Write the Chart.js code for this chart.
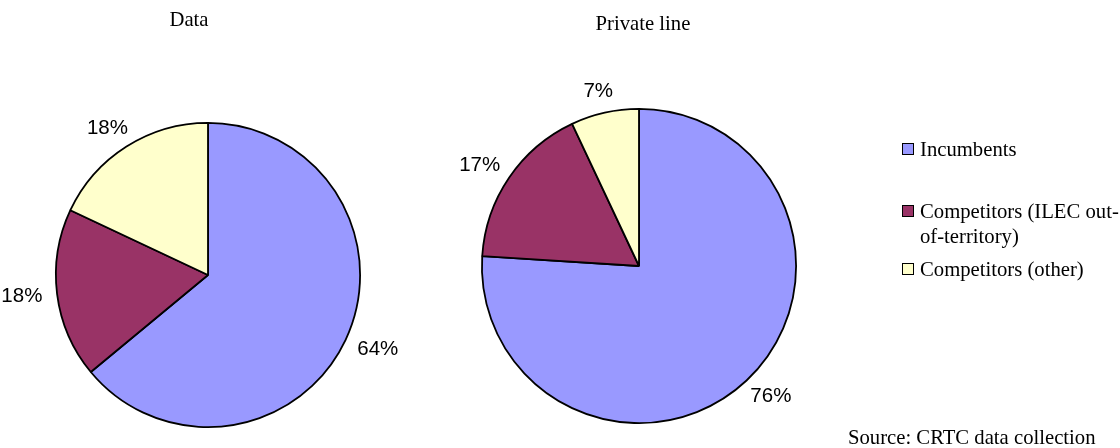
<!DOCTYPE html>
<html>
<head>
<meta charset="utf-8">
<script src="https://cdn.jsdelivr.net/npm/chart.js@4.4.1/dist/chart.umd.min.js"></script>
<style>
  html, body { margin: 0; padding: 0; background: #fff; }
  #page { position: relative; width: 1120px; height: 448px; overflow: hidden; }
  canvas.pie { position: absolute; left: 0; top: 0; }
  .serif { font-family: "Liberation Serif", "Times New Roman", serif; font-size: 20.7px; color: #000; line-height: 1; }
  .title { position: absolute; transform: translate(-50%, -50%); white-space: nowrap; }
  .legend-row { position: absolute; left: 902px; }
  .legend-box { position: absolute; left: 0; width: 10px; height: 10px; border: 1px solid #000; }
  .legend-text { position: absolute; left: 18px; white-space: pre; line-height: 25px; }
  #source { position: absolute; left: 848px; top: 427px; white-space: nowrap; }
</style>
</head>
<body>
<div id="page">
  <canvas id="pieData" class="pie" width="1120" height="448"></canvas>
  <canvas id="pieLine" class="pie" width="1120" height="448"></canvas>
  <div id="titleData" class="serif title" style="left:189px; top:19px;"></div>
  <div id="titleLine" class="serif title" style="left:643px; top:23px;"></div>
  <div id="legend" class="serif"></div>
  <div id="source" class="serif">Source: CRTC data collection</div>
</div>
<script>
// 市场份额（%）
const categories = ['Incumbents', 'Competitors (ILEC out-\nof-territory)', 'Competitors (other)'];
const dataShares = [64, 18, 18];
const privateLineShares = [76, 17, 7];
const chartTitles = ['Data', 'Private line'];

const sliceColors = ['#9999FF', '#993366', '#FFFFCC'];

// 饼图外侧百分比标签
const pctLabels = {
    id: 'pctLabels',
    afterDatasetsDraw(chart) {
        const ctx = chart.ctx;
        const meta = chart.getDatasetMeta(0);
        const values = chart.data.datasets[0].data;
        ctx.save();
        ctx.font = '20.5px "Liberation Sans", Arial, sans-serif';
        ctx.fillStyle = '#000';
        ctx.textAlign = 'center';
        ctx.textBaseline = 'middle';
        meta.data.forEach((arc, i) => {
            const mid = (arc.startAngle + arc.endAngle) / 2;
            const dx = Math.cos(mid);
            const dy = Math.sin(mid);
            const text = values[i] + '%';
            const w = ctx.measureText(text).width;
            const h = 14;
            const r = arc.outerRadius + 15;
            ctx.fillText(text, arc.x + dx * (r + w / 2), arc.y + dy * r + dy * h / 2);
        });
        ctx.restore();
    }
};

/**
 * 创建饼图
 */
function makePie(canvasId, values, padding) {
    const ctx = document.getElementById(canvasId).getContext('2d');
    return new Chart(ctx, {
        type: 'pie',
        data: {
            labels: categories,
            datasets: [{
                data: values,
                backgroundColor: sliceColors,
                borderColor: '#000',
                borderWidth: 1.8
            }]
        },
        options: {
            responsive: false,
            devicePixelRatio: 1,
            animation: false,
            events: [],
            layout: { padding: padding },
            plugins: {
                legend: { display: false },
                title: { display: false },
                tooltip: { enabled: false }
            }
        },
        plugins: [pctLabels]
    });
}

makePie('pieData', dataShares, { left: 55, top: 122, right: 759, bottom: 20 });
makePie('pieLine', privateLineShares, { left: 481, top: 108, right: 323, bottom: 24 });

document.getElementById('titleData').textContent = chartTitles[0];
document.getElementById('titleLine').textContent = chartTitles[1];

// 图例
const legendRowTop = [137, 199, 257];
const legend = document.getElementById('legend');
categories.forEach((name, i) => {
    const row = document.createElement('div');
    row.className = 'legend-row';
    row.style.top = legendRowTop[i] + 'px';
    const box = document.createElement('div');
    box.className = 'legend-box';
    box.style.background = sliceColors[i];
    box.style.top = '6px';
    const text = document.createElement('div');
    text.className = 'legend-text';
    text.textContent = name;
    row.appendChild(box);
    row.appendChild(text);
    legend.appendChild(row);
});
</script>
</body>
</html>
